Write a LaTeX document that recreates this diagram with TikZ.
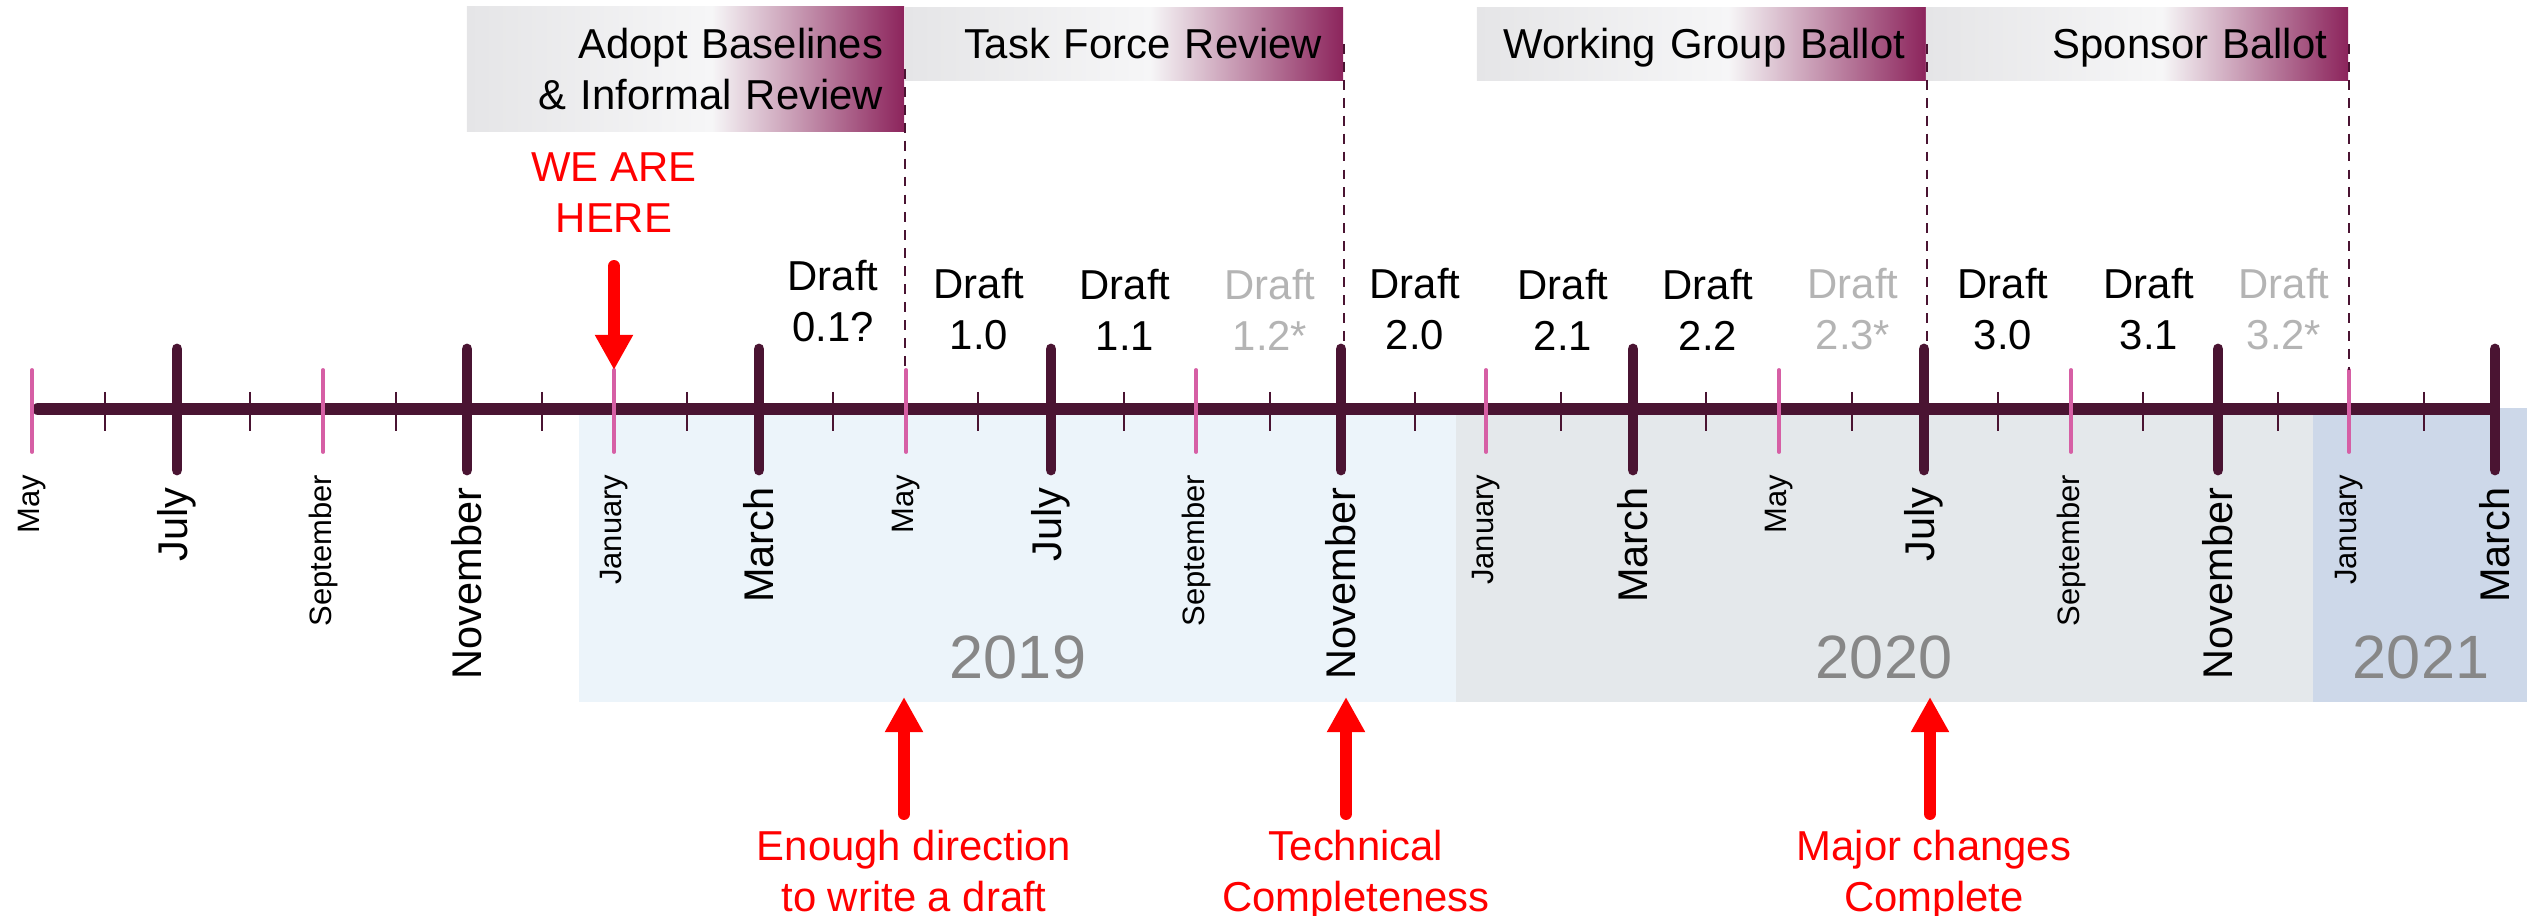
\documentclass[tikz,border=0pt]{standalone}
\usepackage{fontspec}
\setmainfont{Liberation Sans}
\usetikzlibrary{arrows.meta}

\definecolor{plum}{HTML}{4A1432}
\definecolor{tickpink}{HTML}{D65FA5}
\definecolor{draftgray}{HTML}{B4B4B4}
\definecolor{yeargray}{HTML}{878787}
\definecolor{band2019}{HTML}{ECF4FA}
\definecolor{band2020}{HTML}{E4E8EB}
\definecolor{band2021}{HTML}{CDD8E9}
\definecolor{barleft}{HTML}{E5E5E7}
\definecolor{barmid}{HTML}{F6F6F7}
\definecolor{barright}{HTML}{8C245C}
\pgfdeclarehorizontalshading{phasegrad}{100bp}{color(0bp)=(barleft); color(25bp)=(barleft); color(53bp)=(barmid); color(75bp)=(barright); color(100bp)=(barright)}

\begin{document}
\begin{tikzpicture}[x=0.01cm, y=-0.01cm,
  txt/.style={inner sep=0pt, font=\fontsize{11.9}{14.5}\selectfont, align=center},
  phase/.style={txt, shade, shading=phasegrad, align=right, inner xsep=0.21cm, inner ysep=0pt},
  oneline/.style={text height=0.82em, text depth=0pt, minimum height=0.72cm},
  draft/.style={txt, anchor=south},
  olddraft/.style={draft, text=draftgray},
  note/.style={txt, text=red},
  milestone/.style={red, line width=3.4pt, line cap=round, -{Triangle[width=10.2pt, length=10pt]}},
  phaseline/.style={plum, line width=0.7pt, dash pattern=on 2.8pt off 2.3pt},
  majortick/.style={plum, line width=3.1pt, line cap=round},
  minortick/.style={plum, line width=0.7pt},
  pinktick/.style={tickpink, line width=1.1pt, line cap=round},
  bigmonth/.style={inner sep=0pt, rotate=90, anchor=east, font=\fontsize{11.8}{14}\selectfont},
  smallmonth/.style={inner sep=0pt, rotate=90, anchor=east, font=\fontsize{8.8}{10}\selectfont},
  year/.style={inner sep=0pt, anchor=base, text=yeargray, font=\fontsize{17.4}{20}\selectfont}]

\useasboundingbox (0,0) rectangle (2527,916);

\fill[band2019] (579,408) rectangle (1456,702);
\fill[band2020] (1456,408) rectangle (2313,702);
\fill[band2021] (2313,408) rectangle (2527,702);
\node[year] (y2019) at (1018,679) {2019};
\node[year] (y2020) at (1884,679) {2020};
\node[year] (y2021) at (2421,679) {2021};

\draw[plum, line width=3.4pt, line cap=round] (38,409) -- (2489,409);

\foreach \x in {105,250,396,542,687,833,978,1124,1270,1415,1561,1706,1852,1998,2143,2278,2424}
  \draw[minortick] (\x,392) -- (\x,431);

\foreach \n/\x/\m in {0/32/May, 4/323/September, 8/614/January, 12/906/May, 16/1196/September, 20/1486/January, 24/1779/May, 28/2071/September, 32/2349/January}{
  \draw[pinktick] (\x,370) coordinate (top\n) -- (\x,452);
  \node[smallmonth] (month\n) at (\x,474) {\m};
}

\foreach \n/\x/\m in {2/177/July, 6/467/November, 10/759/March, 14/1051/July, 18/1341/November, 22/1633/March, 26/1924/July, 30/2218/November, 34/2495/March}{
  \draw[majortick] (\x,349) coordinate (top\n) -- (\x,470);
  \node[bigmonth] (month\n) at (\x,487) {\m};
}

\node[draft] (d01) at (833,343) {Draft\\0.1?};
\node[draft] (d10) at (979,351) {Draft\\1.0};
\node[draft] (d11) at (1125,351) {Draft\\1.1};
\node[olddraft] (d12) at (1270,351) {Draft\\1.2*};
\node[draft] (d20) at (1415,351) {Draft\\2.0};
\node[draft] (d21) at (1563,351) {Draft\\2.1};
\node[draft] (d22) at (1708,351) {Draft\\2.2};
\node[olddraft] (d23) at (1853,351) {Draft\\2.3*};
\node[draft] (d30) at (2003,351) {Draft\\3.0};
\node[draft] (d31) at (2149,351) {Draft\\3.1};
\node[olddraft] (d32) at (2284,351) {Draft\\3.2*};

\node[phase, text width=3.95cm, minimum height=1.24cm] (adopt) at (685.5,69) {Adopt Baselines\\\& Informal Review};
\node[phase, oneline, text width=3.96cm] (taskforce) at (1124,44) {Task Force Review};
\node[phase, oneline, text width=4.07cm] (wgballot) at (1701.5,44) {Working Group Ballot};
\node[phase, oneline, text width=3.80cm] (sponsor) at (2137,44) {Sponsor Ballot};

\draw[phaseline] (adopt.east) -- (adopt.east |- top12);
\draw[phaseline] (taskforce.east) -- (taskforce.east |- top18);
\draw[phaseline] (wgballot.east) -- (wgballot.east |- top26);
\draw[phaseline] (sponsor.east) -- (sponsor.east |- top32);

\node[note, anchor=south] (here) at (614,233) {WE ARE\\HERE};
\draw[milestone, shorten <=0.33cm] (here.south) -- (top8);

\coordinate (enough) at (904,697);
\coordinate (technical) at (1346,697);
\coordinate (major) at (1930,697);
\node[note, anchor=north] (enoughtxt) at (914,829) {Enough direction\\to write a draft};
\node[note, anchor=north] (technicaltxt) at (1356,829) {Technical\\Completeness};
\node[note, anchor=north] (majortxt) at (1934,829) {Major changes\\Complete};
\draw[milestone, shorten <=0.15cm] (enough |- enoughtxt.north) -- (enough);
\draw[milestone, shorten <=0.15cm] (technical |- technicaltxt.north) -- (technical);
\draw[milestone, shorten <=0.15cm] (major |- majortxt.north) -- (major);

\end{tikzpicture}
\end{document}
